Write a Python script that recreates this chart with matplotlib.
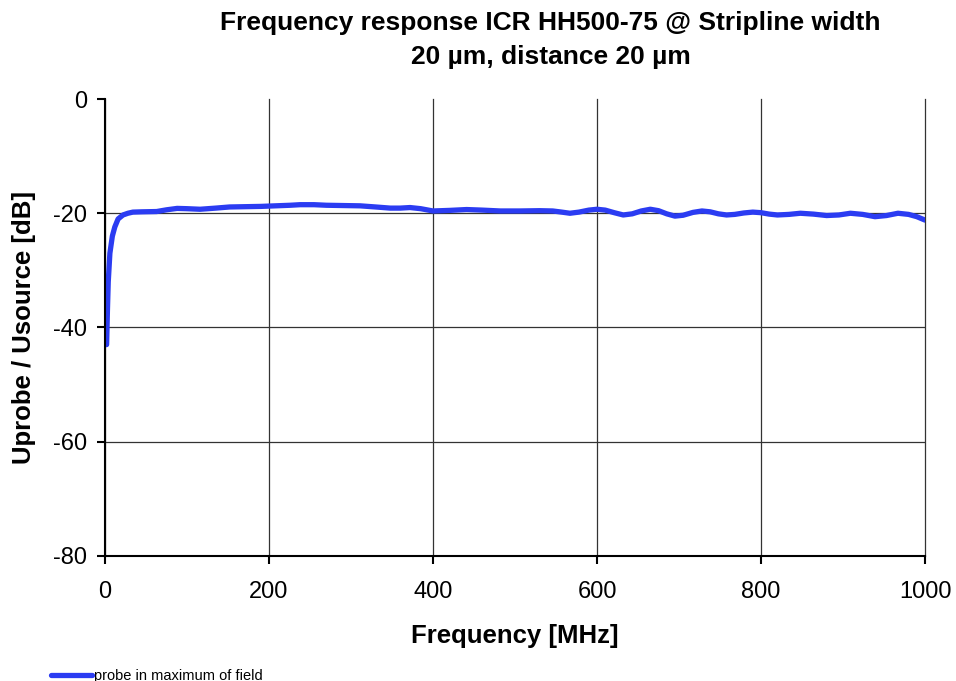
import matplotlib.pyplot as plt

freq = [2, 3, 4, 6, 9, 12, 16, 22, 28, 34, 45, 63, 75, 88, 100, 116, 135, 152, 190, 226, 238,
        255, 270, 311, 330, 348, 360, 372, 385, 400, 420, 441, 460, 482, 506, 530, 546, 557,
        567, 578, 590, 600, 610, 621, 632, 643, 654, 665, 675, 685, 695, 705, 717, 728, 738,
        748, 758, 768, 779, 790, 800, 810, 820, 834, 848, 864, 880, 895, 909, 924, 939, 953,
        967, 980, 990, 1000]
level = [-43.0, -37.0, -32.0, -27.0, -24.0, -22.4, -21.0, -20.3, -20.0, -19.8, -19.75, -19.7,
         -19.4, -19.15, -19.2, -19.3, -19.1, -18.9, -18.8, -18.6, -18.5, -18.5, -18.6, -18.7,
         -18.9, -19.1, -19.1, -19.0, -19.2, -19.6, -19.5, -19.35, -19.45, -19.6, -19.6, -19.55,
         -19.6, -19.8, -20.0, -19.8, -19.45, -19.3, -19.45, -19.9, -20.3, -20.1, -19.6, -19.3,
         -19.55, -20.1, -20.5, -20.35, -19.85, -19.6, -19.75, -20.1, -20.3, -20.2, -19.95,
         -19.8, -19.9, -20.15, -20.3, -20.2, -20.0, -20.15, -20.4, -20.3, -20.0, -20.2, -20.6,
         -20.4, -20.0, -20.2, -20.6, -21.2]

plt.rcParams['font.family'] = ['Liberation Sans', 'DejaVu Sans']
plt.rcParams['axes.unicode_minus'] = False

fig = plt.figure(figsize=(9.56, 6.81), dpi=100)
ax = fig.add_axes([0.1098, 0.1836, 0.8578, 0.671])

ax.plot(freq, level, color='#2b3cf2', linewidth=3.8, solid_capstyle='round',
        solid_joinstyle='round', label='probe in maximum of field')

ax.set_xlim(0, 1000)
ax.set_ylim(-80, 0)
ax.set_xticks([0, 200, 400, 600, 800, 1000])
ax.set_yticks([-80, -60, -40, -20, 0])
ax.grid(True, color='#333333', linewidth=0.9)
ax.get_ygridlines()[-1].set_visible(False)
for gl in ax.get_xgridlines():
    gl.set_clip_on(False)
ax.set_axisbelow(True)

ax.spines['top'].set_visible(False)
ax.spines['right'].set_visible(False)
ax.spines['left'].set_linewidth(1.5)
ax.spines['bottom'].set_linewidth(1.5)
ax.tick_params(direction='out', length=6, width=1.5, labelsize=17, pad=7)
ax.tick_params(axis='x', pad=12)

ax.set_xlabel('Frequency [MHz]', fontsize=18.5, fontweight='bold', labelpad=15)
ax.set_ylabel('Uprobe / Usource [dB]', fontsize=18.5, fontweight='bold', labelpad=12)

fig.text(0.576, 0.941, 'Frequency response ICR HH500-75 @ Stripline width\n20 µm, distance 20 µm',
         ha='center', va='center', fontsize=19, fontweight='bold', linespacing=1.55)

fig.legend(loc='lower left', bbox_to_anchor=(0.04, -0.022), frameon=False, fontsize=10.5,
           handlelength=2.8, handletextpad=0.1)

fig.savefig('out.png', dpi=100)
